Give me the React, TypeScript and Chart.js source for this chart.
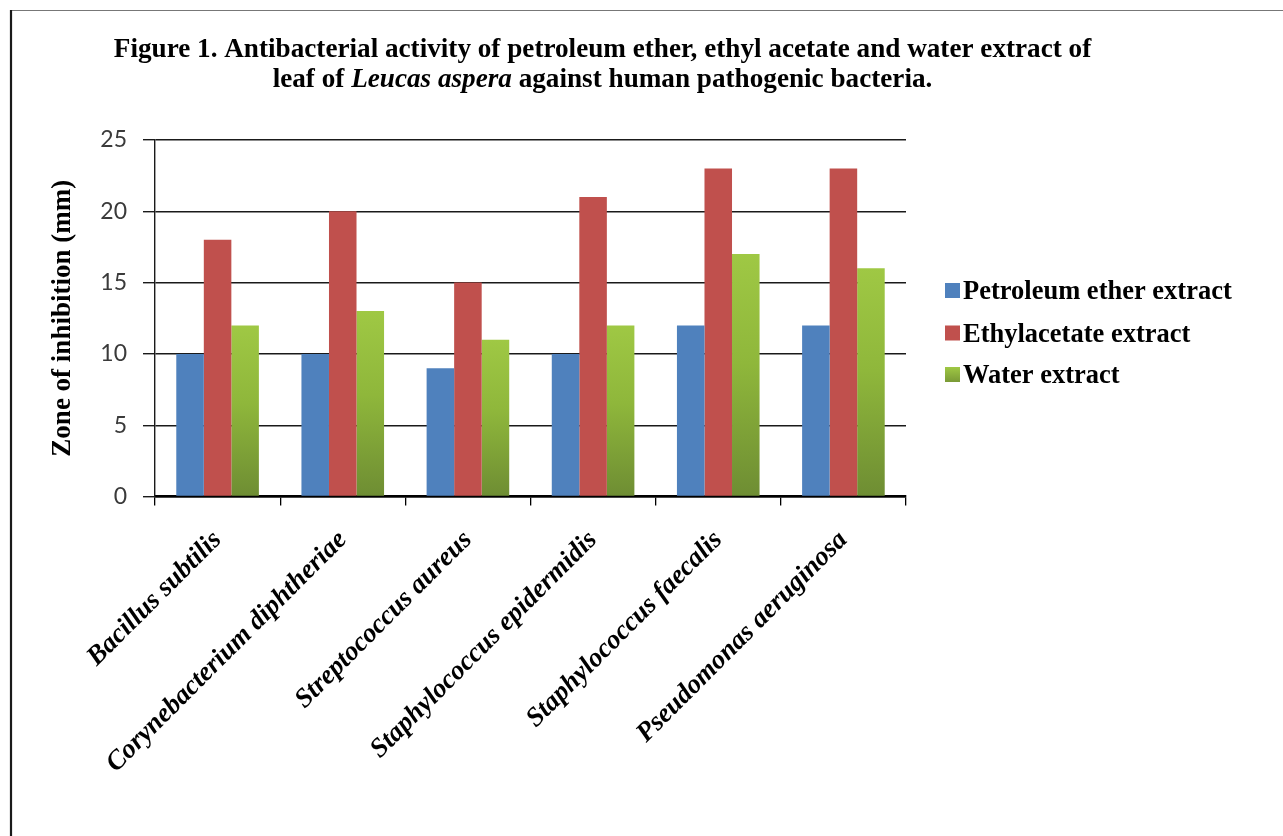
import React, { useEffect, useRef } from "react";
import { Chart, registerables } from "chart.js";

Chart.register(...registerables);

const categories = [
  "Bacillus subtilis",
  "Corynebacterium diphtheriae",
  "Streptococcus aureus",
  "Staphylococcus epidermidis",
  "Staphylococcus faecalis",
  "Pseudomonas aeruginosa",
];
const petroleumEther = [10, 10, 9, 10, 12, 12];
const ethylAcetate = [18, 20, 15, 21, 23, 23];
const water = [12, 13, 11, 12, 17, 16];
const yTicks = [0, 5, 10, 15, 20, 25];
const seriesLabels = ["Petroleum ether extract", "Ethylacetate extract", "Water extract"];
const titleLine1 = "Figure 1. Antibacterial activity of petroleum ether, ethyl acetate and water extract of";
const titleLine2 = [
  { text: "leaf of ", italic: false },
  { text: "Leucas aspera", italic: true },
  { text: " against human pathogenic bacteria.", italic: false },
];
const yAxisTitle = "Zone of inhibition (mm)";

const W = 1283;
const H = 836;
const SERIF = "'Liberation Serif', 'Times New Roman', serif";
const BLUE = "#4f81bd";
const RED = "#c0504d";
const GREEN_MID = "#8db83e";

function greenFill(c: any) {
  const chart = c.chart;
  const y = chart.scales && chart.scales.y;
  if (!y || c.type !== "data") return GREEN_MID;
  const top = y.getPixelForValue(c.raw);
  const bottom = y.getPixelForValue(0);
  if (!isFinite(top) || !isFinite(bottom) || top === bottom) return GREEN_MID;
  const g = chart.ctx.createLinearGradient(0, top, 0, bottom);
  g.addColorStop(0, "#9fc844");
  g.addColorStop(0.45, "#8fb73b");
  g.addColorStop(1, "#6e8d33");
  return g;
}

const decorPlugin = {
  id: "decor",
  beforeDraw(chart: any) {
    const ctx = chart.ctx;
    ctx.save();
    ctx.fillStyle = "#ffffff";
    ctx.fillRect(0, 0, W, H);
    ctx.strokeStyle = "#777777";
    ctx.lineWidth = 1.2;
    ctx.beginPath();
    ctx.moveTo(10, 10.5);
    ctx.lineTo(W, 10.5);
    ctx.stroke();
    ctx.strokeStyle = "#1a1a1a";
    ctx.lineWidth = 2.2;
    ctx.beginPath();
    ctx.moveTo(11, 10);
    ctx.lineTo(11, H);
    ctx.stroke();
    ctx.restore();
  },
  afterDraw(chart: any) {
    const ctx = chart.ctx;
    ctx.save();
    ctx.fillStyle = "#000000";
    ctx.textBaseline = "alphabetic";
    const cx = 602.5;
    let size = 26;
    ctx.font = `bold ${size}px ${SERIF}`;
    const w1 = ctx.measureText(titleLine1).width;
    size = Math.min(28, Math.max(22, (size * 978) / w1));
    ctx.font = `bold ${size}px ${SERIF}`;
    ctx.textAlign = "left";
    const l1w = ctx.measureText(titleLine1).width;
    ctx.fillText(titleLine1, cx - l1w / 2, 56.5);
    const parts = titleLine2.map((p) => {
      const f = `${p.italic ? "italic " : ""}bold ${size}px ${SERIF}`;
      ctx.font = f;
      return { text: p.text, font: f, w: ctx.measureText(p.text).width };
    });
    const total = parts.reduce((s, p) => s + p.w, 0);
    let x = cx - total / 2;
    parts.forEach((p) => {
      ctx.font = p.font;
      ctx.fillText(p.text, x, 86.5);
      x += p.w;
    });
    const colors = [BLUE, RED, GREEN_MID];
    const rowY = [290.5, 333, 374.5];
    ctx.font = `bold 26.5px ${SERIF}`;
    seriesLabels.forEach((lab, i) => {
      if (i === 2) {
        const g = ctx.createLinearGradient(0, rowY[i] - 7.5, 0, rowY[i] + 7.5);
        g.addColorStop(0, "#9fc844");
        g.addColorStop(1, "#7a9a36");
        ctx.fillStyle = g;
      } else {
        ctx.fillStyle = colors[i];
      }
      ctx.fillRect(945, rowY[i] - 7.5, 15, 15);
      ctx.fillStyle = "#000000";
      ctx.fillText(lab, 963, rowY[i] + 8.5);
    });
    ctx.restore();
  },
};

export default function App() {
  const ref = useRef<HTMLCanvasElement | null>(null);
  useEffect(() => {
    if (!ref.current) return;
    const chart = new Chart(ref.current, {
      type: "bar",
      data: {
        labels: categories,
        datasets: [
          { label: seriesLabels[0], data: petroleumEther, backgroundColor: BLUE, borderWidth: 0 },
          { label: seriesLabels[1], data: ethylAcetate, backgroundColor: RED, borderWidth: 0 },
          { label: seriesLabels[2], data: water, backgroundColor: greenFill as any, borderWidth: 0 },
        ],
      },
      options: {
        responsive: false,
        animation: false,
        devicePixelRatio: 1,
        layout: { padding: { left: 0, top: 140, right: W - 906, bottom: 0 } },
        datasets: { bar: { categoryPercentage: 0.66, barPercentage: 1.0 } },
        plugins: {
          legend: { display: false },
          title: { display: false },
          tooltip: { enabled: false },
        },
        scales: {
          x: {
            offset: true,
            grid: {
              display: true,
              drawOnChartArea: false,
              drawTicks: true,
              tickLength: 9,
              color: "#000000",
              lineWidth: 1.3,
              offset: true,
            },
            border: { display: true, color: "#000000", width: 2.5 },
            ticks: {
              autoSkip: false,
              minRotation: 45,
              maxRotation: 45,
              padding: 19,
              color: "#000000",
              font: { family: SERIF, size: 27, weight: "bold", style: "italic" },
            },
            afterFit: (scale: any) => {
              scale.height = H - 496.5;
            },
          },
          y: {
            min: 0,
            max: 25,
            afterBuildTicks: (scale: any) => {
              scale.ticks = yTicks.map((v) => ({ value: v }));
            },
            grid: {
              color: "#1a1a1a",
              lineWidth: 1.4,
              drawTicks: true,
              tickLength: 12,
            },
            border: { display: true, color: "#1a1a1a", width: 1.4 },
            ticks: {
              padding: 16,
              color: "#3a3a3a",
              font: { family: "Lato, 'Open Sans', sans-serif", size: 23 },
            },
            title: {
              display: true,
              text: yAxisTitle,
              color: "#000000",
              padding: { top: 47, bottom: 0 },
              font: { family: SERIF, size: 27, weight: "bold" },
            },
            afterFit: (scale: any) => {
              scale.width = 155;
            },
          },
        },
      },
      plugins: [decorPlugin],
    });
    return () => chart.destroy();
  }, []);
  return (
    <div style={{ position: "fixed", left: 0, top: 0, width: W, height: H, background: "#fff" }}>
      <canvas ref={ref} width={W} height={H} style={{ display: "block", width: W, height: H }} />
    </div>
  );
}
